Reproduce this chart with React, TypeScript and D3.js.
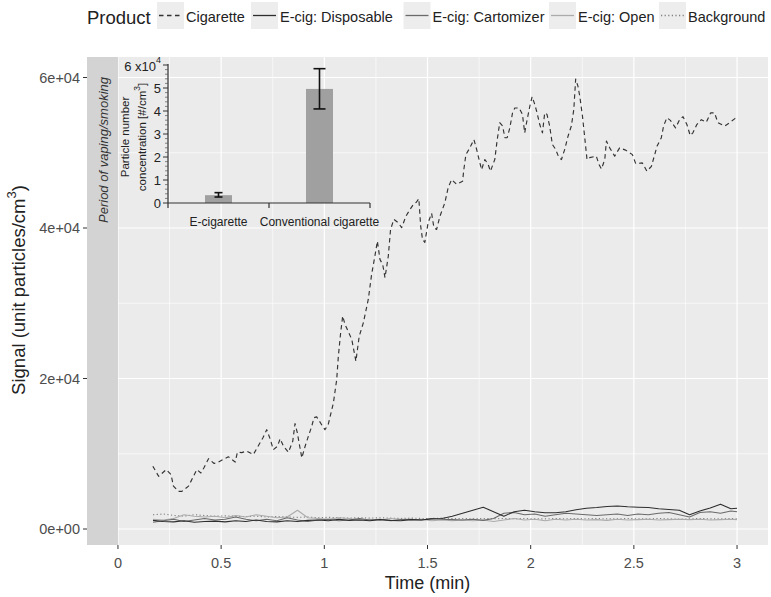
import React from 'react';
import * as d3 from 'd3';

// ---------------- data ----------------
const cigTime = [0.169,0.197,0.234,0.257,0.269,0.293,0.310,0.342,0.366,0.382,
0.402,0.418,0.439,0.466,0.487,0.511,0.535,0.568,0.579,0.600,
0.624,0.656,0.681,0.702,0.721,0.737,0.753,0.773,0.786,0.802,
0.826,0.847,0.858,0.869,0.882,0.891,0.907,0.923,0.939,0.950,
0.963,0.992,1.003,1.019,1.044,1.060,1.068,1.079,1.089,1.100,
1.133,1.153,1.169,1.189,1.213,1.229,1.245,1.257,1.270,1.283,
1.294,1.310,1.321,1.337,1.358,1.375,1.395,1.415,1.431,1.447,
1.458,1.467,1.476,1.487,1.503,1.520,1.531,1.544,1.560,1.584,
1.600,1.617,1.641,1.670,1.676,1.686,1.705,1.725,1.738,1.750,
1.762,1.778,1.794,1.805,1.826,1.837,1.850,1.864,1.875,1.886,
1.899,1.912,1.923,1.944,1.960,1.971,1.980,1.996,2.007,2.020,
2.031,2.044,2.057,2.068,2.079,2.092,2.105,2.121,2.137,2.149,
2.165,2.181,2.197,2.209,2.218,2.229,2.238,2.251,2.262,2.273,
2.286,2.318,2.331,2.343,2.359,2.367,2.383,2.407,2.431,2.460,
2.493,2.509,2.541,2.563,2.585,2.601,2.612,2.633,2.644,2.660,
2.677,2.702,2.722,2.738,2.757,2.773,2.786,2.805,2.827,2.851,
2.872,2.891,2.907,2.940,2.964,2.988,3.000];

const cigValue = [8350,7000,7900,7250,5700,5000,5000,5700,7000,7900,
7450,8200,9350,8700,8900,9250,9600,8900,10200,10150,
10350,9900,11100,12100,13200,12000,10550,11000,12000,11000,
10200,11650,14000,12800,10800,9450,11000,12350,13650,14800,
14900,13650,13200,13900,16750,19850,22950,26050,28300,27200,
25200,22300,25600,27400,30500,33800,36250,38250,35800,35150,
33400,36250,39800,41150,40700,40050,41550,42450,43100,43450,
43900,40250,38450,38100,40700,41950,40050,39800,41550,43350,
45350,46450,45800,46200,47750,49750,50650,51750,50450,49100,
47750,49100,48450,47550,49100,51550,54000,53550,52000,52000,
53300,55300,55950,55950,55100,52650,54000,56200,57450,56400,
55300,53750,52650,55300,55100,53550,51100,50450,49350,49100,
50450,52200,53550,55750,59800,58850,57500,54850,52000,49100,
49350,49550,48450,47850,49100,51550,50650,49550,50650,50350,
49750,48550,48650,47550,48200,49750,50850,52000,53550,54650,
54300,53300,54400,54800,53750,52300,52650,53750,54400,54050,
55300,55300,54000,53550,54000,54500,54800];

const lowTime = [0.17,0.22,0.27,0.32,0.37,0.42,0.47,0.52,0.57,0.62,
0.67,0.72,0.77,0.82,0.87,0.92,0.97,1.02,1.07,1.12,
1.17,1.22,1.27,1.32,1.37,1.42,1.47,1.52,1.57,1.62,
1.67,1.72,1.77,1.82,1.87,1.92,1.97,2.02,2.07,2.12,
2.17,2.22,2.27,2.32,2.37,2.42,2.47,2.52,2.57,2.62,
2.67,2.72,2.77,2.82,2.87,2.92,2.97,3.00];

const disposableValue = [1150,1000,950,1100,900,1000,1050,950,1100,1000,
1200,1000,950,1100,1000,1150,1200,1100,1300,1150,
1200,1100,1250,1150,1100,1250,1200,1350,1400,1700,
2100,2500,2900,2300,1700,2300,2500,2300,2150,2150,
2300,2550,2750,2850,3000,3050,2950,2900,2850,2700,
2600,2500,1900,2400,2800,3300,2700,2750];

const cartomizerValue = [900,1100,1300,1000,1200,1400,1200,1300,1600,1300,
1100,1300,1100,1500,1200,1000,1200,1300,1100,1200,
1400,1200,1300,1100,1250,1300,1200,1400,1300,1250,
1200,1300,1150,1400,2100,2200,1900,2000,1700,1900,
2100,2000,1900,1800,1900,2000,1800,2000,1900,2100,
2200,1900,1600,2200,2300,2100,2400,2300];

const openValue = [1300,1200,1400,1900,1700,1600,1700,1500,1800,1600,
1900,1700,1500,1600,2500,1500,1400,1300,1500,1400,
1200,1300,1200,1400,1300,1200,1300,1100,1200,1100,
1200,1100,1200,1000,1200,1400,1200,1300,1100,1300,
1200,1300,1200,1250,1150,1300,1200,1250,1300,1200,
1250,1300,1250,1300,1200,1250,1300,1250];

const backgroundValue = [1900,2000,1800,1700,1900,1800,1700,1750,1700,1650,
1700,1600,1650,1600,1550,1600,1500,1550,1500,1450,
1500,1450,1500,1450,1400,1450,1400,1400,1450,1400,
1400,1350,1400,1350,1400,1350,1400,1350,1350,1400,
1350,1400,1350,1400,1350,1350,1400,1350,1350,1400,
1350,1300,1350,1400,1350,1350,1400,1350];

const productNames = ['Cigarette', 'E-cig: Disposable', 'E-cig: Cartomizer', 'E-cig: Open', 'Background'];

const xTicks = [0, 0.5, 1, 1.5, 2, 2.5, 3];
const xTickLabels = ['0', '0.5', '1', '1.5', '2', '2.5', '3'];
const xMinor = [0.25, 0.75, 1.25, 1.75, 2.25, 2.75];
const yTicks = [0, 20000, 40000, 60000];
const yTickLabels = ['0e+00', '2e+04', '4e+04', '6e+04'];
const yMinor = [10000, 30000, 50000];

// inset bar chart
const insetCategories = ['E-cigarette', 'Conventional cigarette'];
const insetMean = [0.34, 4.96];
const insetLower = [0.26, 4.09];
const insetUpper = [0.45, 5.84];
const insetTicks = [0, 1, 2, 3, 4, 5];

// ---------------- styles ----------------
const FONT = '"Liberation Sans", Arial, Helvetica, sans-serif';
const P = { left: 87, right: 768, top: 57, bottom: 545 };
const seriesStyle = [
  { color: '#333333', dash: '4.5 3.5', width: 1.15 },
  { color: '#2e2e2e', dash: null, width: 1.1 },
  { color: '#6a6a6a', dash: null, width: 1.1 },
  { color: '#ababab', dash: null, width: 1.1 },
  { color: '#808080', dash: '1.2 2.4', width: 1.1 },
];
const legendKeyX = [157, 251, 403.5, 549, 659];
const capWidth = [8, 12];

export default function App() {
  const x = d3.scaleLinear().domain([-0.15, 3.15]).range([P.left, P.right]);
  const y = d3.scaleLinear().domain([-2126, 62725]).range([P.bottom, P.top]);
  const lineGen = d3.line<[number, number]>().x(d => x(d[0])).y(d => y(d[1]));
  const mk = (ts: number[], vs: number[]) => lineGen(ts.map((t, i) => [t, vs[i]] as [number, number])) || '';

  const seriesData = [
    { t: cigTime, v: cigValue },
    { t: lowTime, v: disposableValue },
    { t: lowTime, v: cartomizerValue },
    { t: lowTime, v: openValue },
    { t: lowTime, v: backgroundValue },
  ];
  const drawOrder = [4, 3, 2, 1, 0];

  // inset scales
  const yi = d3.scaleLinear().domain([0, 6]).range([203, 65]);
  const xi = d3.scaleBand<string>().domain(insetCategories).range([168, 370]);
  const barW = 27;
  const minorTicks = d3.range(0, 30).map(k => k * 0.2).filter(v => Math.abs(v - Math.round(v)) > 1e-6);

  return (
    <svg width={771} height={597} style={{ position: 'absolute', left: 0, top: 0, background: '#fff' }} fontFamily={FONT}>
      {/* panel */}
      <rect x={P.left} y={P.top} width={P.right - P.left} height={P.bottom - P.top} fill="#EBEBEB" />
      {xMinor.map(v => <line key={'xm' + v} x1={x(v)} x2={x(v)} y1={P.top} y2={P.bottom} stroke="#fff" strokeWidth={0.6} />)}
      {yMinor.map(v => <line key={'ym' + v} x1={P.left} x2={P.right} y1={y(v)} y2={y(v)} stroke="#fff" strokeWidth={0.6} />)}
      {xTicks.map(v => <line key={'xg' + v} x1={x(v)} x2={x(v)} y1={P.top} y2={P.bottom} stroke="#fff" strokeWidth={1.2} />)}
      {yTicks.map(v => <line key={'yg' + v} x1={P.left} x2={P.right} y1={y(v)} y2={y(v)} stroke="#fff" strokeWidth={1.2} />)}
      {/* period band */}
      <rect x={P.left} y={P.top} width={x(0) - P.left} height={P.bottom - P.top} fill="#D3D3D3" />
      <text transform={`translate(103,150) rotate(-90)`} textAnchor="middle" dominantBaseline="central" fontSize={13} fontStyle="italic" fill="#333">Period of vaping/smoking</text>

      {/* lines */}
      {drawOrder.map(i => (
        <path key={'s' + i} d={mk(seriesData[i].t, seriesData[i].v)} fill="none" stroke={seriesStyle[i].color}
          strokeWidth={seriesStyle[i].width} strokeDasharray={seriesStyle[i].dash || undefined} strokeLinejoin="round" />
      ))}

      {/* axes */}
      {yTicks.map((v, i) => (
        <g key={'yt' + v}>
          <line x1={P.left - 4} x2={P.left} y1={y(v)} y2={y(v)} stroke="#333" strokeWidth={1} />
          <text x={P.left - 7} y={y(v)} textAnchor="end" dominantBaseline="central" fontSize={14.5} fill="#4D4D4D">{yTickLabels[i]}</text>
        </g>
      ))}
      {xTicks.map((v, i) => (
        <g key={'xt' + v}>
          <line x1={x(v)} x2={x(v)} y1={P.bottom} y2={P.bottom + 4} stroke="#333" strokeWidth={1} />
          <text x={x(v)} y={563} textAnchor="middle" dominantBaseline="central" fontSize={14.5} fill="#4D4D4D">{xTickLabels[i]}</text>
        </g>
      ))}
      <text x={(P.left + P.right) / 2} y={583} textAnchor="middle" dominantBaseline="central" fontSize={18} fill="#222">Time (min)</text>
      <text transform={`translate(18,290) rotate(-90)`} textAnchor="middle" dominantBaseline="central" fontSize={18.5} fill="#222">
        Signal (unit particles/cm<tspan dy={-7} fontSize={13}>3</tspan><tspan dy={7}>)</tspan>
      </text>

      {/* legend */}
      <text x={87} y={17} dominantBaseline="central" fontSize={18.5} fill="#222">Product</text>
      {productNames.map((name, i) => {
        const kx = legendKeyX[i];
        return (
          <g key={'lg' + i}>
            <rect x={kx} y={2} width={27} height={27} fill="#EDEDED" />
            <line x1={kx + 2} x2={kx + 25} y1={15.5} y2={15.5} stroke={seriesStyle[i].color}
              strokeWidth={seriesStyle[i].width + 0.2} strokeDasharray={seriesStyle[i].dash || undefined} />
            <text x={kx + 29} y={17} dominantBaseline="central" fontSize={14.5} fill="#222">{name}</text>
          </g>
        );
      })}

      {/* inset */}
      <g>
        {insetCategories.map((c, i) => {
          const cx = (xi(c) as number) + xi.bandwidth() / 2;
          return (
            <g key={'bar' + i}>
              <rect x={cx - barW / 2} y={yi(insetMean[i])} width={barW} height={yi(0) - yi(insetMean[i])} fill="#A0A0A0" />
              <line x1={cx} x2={cx} y1={yi(insetUpper[i])} y2={yi(insetLower[i])} stroke="#111" strokeWidth={1.6} />
              <line x1={cx - capWidth[i] / 2} x2={cx + capWidth[i] / 2} y1={yi(insetUpper[i])} y2={yi(insetUpper[i])} stroke="#111" strokeWidth={1.6} />
              <line x1={cx - capWidth[i] / 2} x2={cx + capWidth[i] / 2} y1={yi(insetLower[i])} y2={yi(insetLower[i])} stroke="#111" strokeWidth={1.6} />
              <text x={cx} y={222} textAnchor="middle" dominantBaseline="central" fontSize={12} fill="#222">{c}</text>
            </g>
          );
        })}
        <line x1={168} x2={168} y1={yi(0)} y2={yi(6) - 1} stroke="#333" strokeWidth={1.2} />
        <line x1={168} x2={370} y1={yi(0)} y2={yi(0)} stroke="#333" strokeWidth={1.2} />
        {[xi.range()[0], xi.range()[0] + xi.bandwidth(), xi.range()[1]].map((v, i) => (
          <line key={'ixt' + i} x1={v} x2={v} y1={yi(0)} y2={yi(0) + 5} stroke="#333" strokeWidth={1.2} />
        ))}
        {minorTicks.map(v => <line key={'imt' + v} x1={165} x2={168} y1={yi(v)} y2={yi(v)} stroke="#555" strokeWidth={0.7} />)}
        {[...insetTicks, 6].map(v => <line key={'it' + v} x1={163} x2={168} y1={yi(v)} y2={yi(v)} stroke="#333" strokeWidth={1} />)}
        {insetTicks.map(v => (
          <text key={'itl' + v} x={161} y={yi(v)} textAnchor="end" dominantBaseline="central" fontSize={13} fill="#222">{String(v)}</text>
        ))}
        <text x={161} y={yi(6) + 1} textAnchor="end" dominantBaseline="central" fontSize={13} fill="#222">
          6 x10<tspan dy={-6} fontSize={9}>4</tspan>
        </text>
        <text transform={`translate(125,137) rotate(-90)`} textAnchor="middle" dominantBaseline="central" fontSize={11.5} fill="#222">Particle number</text>
        <text transform={`translate(142,137) rotate(-90)`} textAnchor="middle" dominantBaseline="central" fontSize={11.5} fill="#222">
          concentration [#/cm<tspan dy={-5} fontSize={8.5}>3</tspan><tspan dy={5}>]</tspan>
        </text>
      </g>
    </svg>
  );
}
